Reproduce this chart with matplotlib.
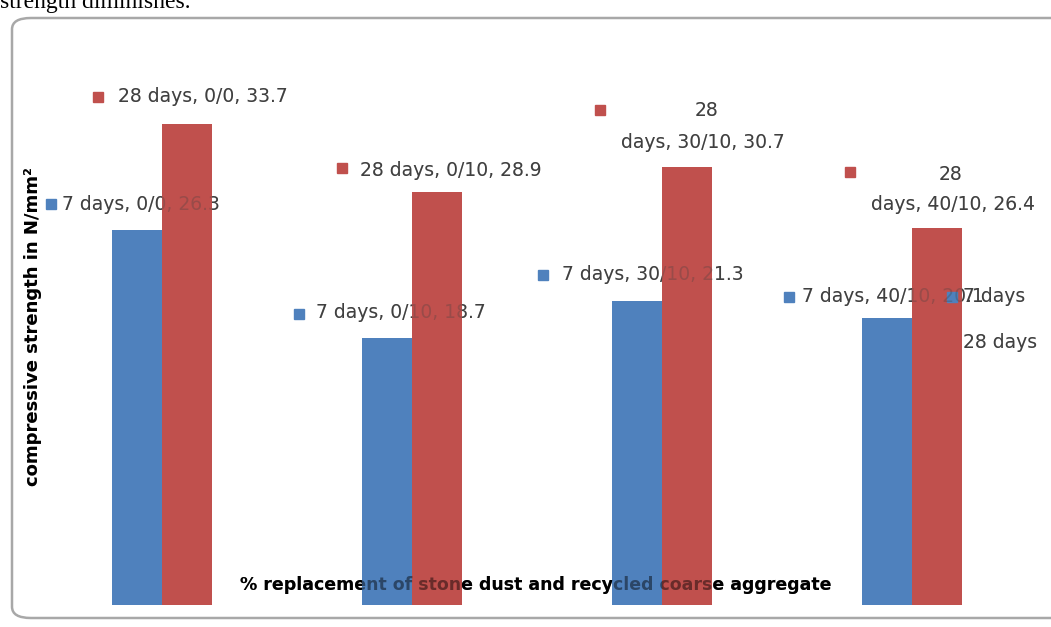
import matplotlib.pyplot as plt
from matplotlib.patches import FancyBboxPatch

# compressive strength (N/mm^2) per mix, 7 and 28 day cure
mixes = ['0/0', '0/10', '30/10', '40/10']
days7 = [26.3, 18.7, 21.3, 20.1]
days28 = [33.7, 28.9, 30.7, 26.4]

BLUE = '#4F81BD'
RED = '#C0504D'
TXT = '#404040'
W, H = 1051, 627

plt.rcParams['font.family'] = ['DejaVu Sans']

fig = plt.figure(figsize=(W / 100, H / 100), dpi=100)

# chart area frame with rounded corners
frame = FancyBboxPatch((12 / W, 9 / H), (W + 30) / W, 600 / H,
                       boxstyle='round,pad=0,rounding_size=0.018',
                       transform=fig.transFigure, facecolor='white',
                       edgecolor='#a8a8a8', linewidth=1.8, zorder=0)
fig.patches.append(frame)

# tail of the paragraph sitting above the chart
fig.text(0.0, 1 - 8 / H, 'strength diminishes.', family='Liberation Serif',
         fontsize=17, color='black', va='baseline', ha='left')

ax = fig.add_axes([37 / W, (H - 605) / H, 1000 / W, 571 / H])
ax.set_zorder(1)
ax.patch.set_visible(False)
ax.set_xlim(-0.5, 3.5)
ax.set_ylim(0, 40)
ax.axis('off')

x = range(len(mixes))
ax.bar([i - 0.1 for i in x], days7, width=0.2, color=BLUE, zorder=2)
ax.bar([i + 0.1 for i in x], days28, width=0.2, color=RED, zorder=2)

# texts go under the bars; a faint copy on top lets them show through
under = fig.add_axes([0, 0, 1, 1], zorder=0.5)
over = fig.add_axes([0, 0, 1, 1], zorder=2)
for layer in (under, over):
    layer.set_xlim(0, W)
    layer.set_ylim(H, 0)
    layer.axis('off')
    layer.patch.set_visible(False)


def put(xp, yp, s, alpha_over=0.3, **kw):
    under.text(xp, yp, s, **kw)
    over.text(xp, yp, s, alpha=alpha_over, **kw)


def label(sq, color, lines, layer=under):
    layer.plot([sq[0]], [sq[1]], marker='s', markersize=6.5, color=color,
               linestyle='none')
    for (tx, ty, ha, s) in lines:
        put(tx, ty, s, fontsize=13.5, color=TXT, ha=ha, va='center')


# 7-day labels
label((51, 204), BLUE, [(62, 205, 'left', f'7 days, {mixes[0]}, {days7[0]}')])
label((299, 314), BLUE, [(316, 313, 'left', f'7 days, {mixes[1]}, {days7[1]}')])
label((543, 275), BLUE, [(562, 275, 'left', f'7 days, {mixes[2]}, {days7[2]}')])
label((789, 297), BLUE, [(802, 297, 'left', f'7 days, {mixes[3]}, {days7[3]}')])

# 28-day labels
label((98, 97), RED, [(118, 97, 'left', f'28 days, {mixes[0]}, {days28[0]}')])
label((342, 168), RED, [(360, 170, 'left', f'28 days, {mixes[1]}, {days28[1]}')])
label((600, 110), RED, [(707, 110, 'center', '28'),
                        (703, 142, 'center', f'days, {mixes[2]}, {days28[2]}')])
label((850, 172), RED, [(950, 175, 'center', '28'),
                        (953, 205, 'center', f'days, {mixes[3]}, {days28[3]}')])

# legend entries, keys drawn above the bars
label((952, 297), BLUE, [(963, 297, 'left', '7 days')], layer=over)
label((952, 342), RED, [(963, 342, 'left', '28 days')], layer=over)

# axis titles
put(33, 327, 'compressive strength in N/mm²', rotation=90,
    fontsize=13, fontweight='bold', color='black', ha='center', va='center')
put(536, 585, '% replacement of stone dust and recycled coarse aggregate',
    alpha_over=0.45, fontsize=12.5, fontweight='bold', color='black',
    ha='center', va='center')

fig.savefig('out.png', dpi=100)
